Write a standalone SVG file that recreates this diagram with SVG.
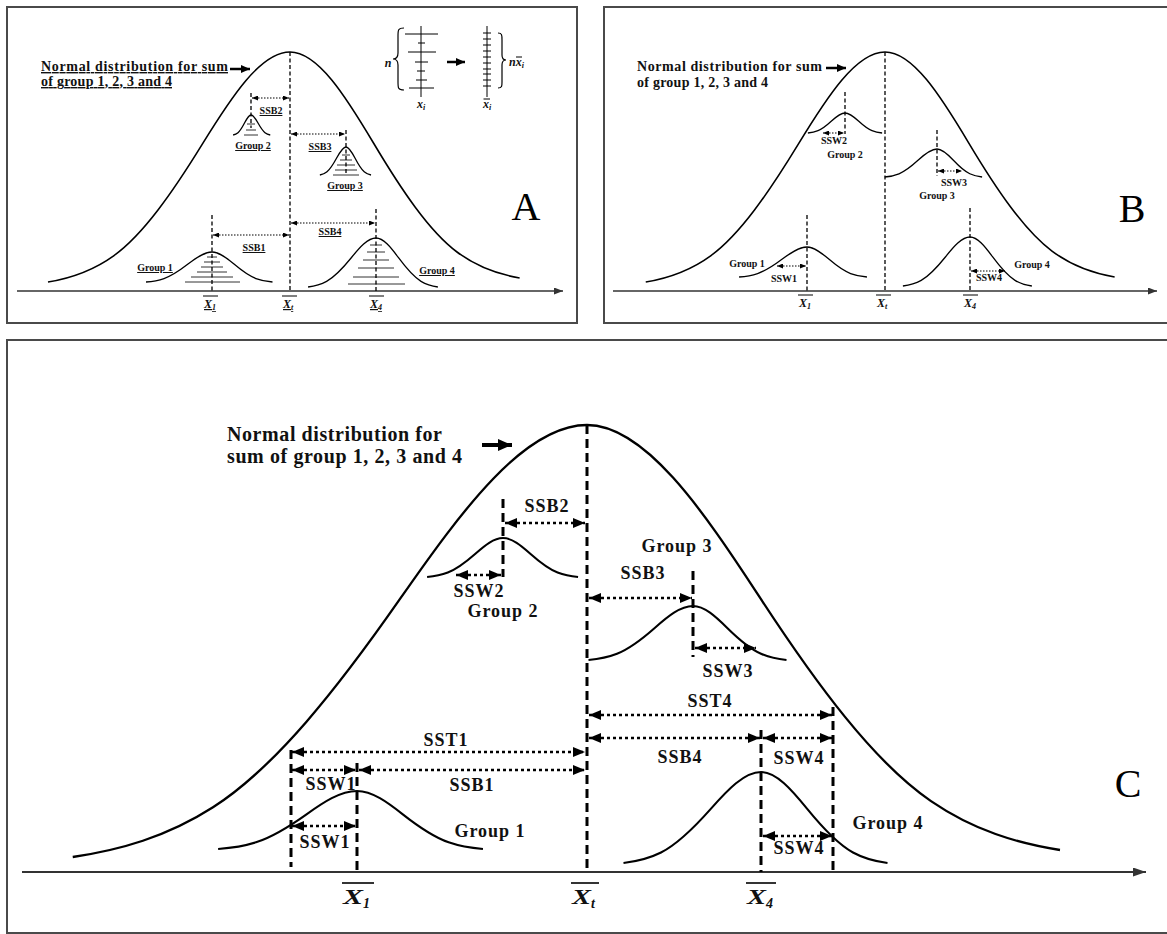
<svg xmlns="http://www.w3.org/2000/svg" xmlns:xlink="http://www.w3.org/1999/xlink" width="1167" height="934" viewBox="0 0 1167 934">
<style>
.frame{fill:none;stroke:#4a4a4a;stroke-width:2}
.axisS{stroke:#333;stroke-width:1.3;fill:none;marker-end:url(#ha)}
.axisL{stroke:#333;stroke-width:2;fill:none;marker-end:url(#haL)}
.bigS{fill:none;stroke:#000;stroke-width:1.6}
.grpS{fill:none;stroke:#000;stroke-width:1.3}
.bigL{fill:none;stroke:#000;stroke-width:2.3}
.grpL{fill:none;stroke:#000;stroke-width:2.1}
.dashS{stroke:#000;stroke-width:1.3;stroke-dasharray:4 2.5}
.dashL{stroke:#000;stroke-width:3;stroke-dasharray:9 5}
.dotS{stroke:#000;stroke-width:1.2;stroke-dasharray:1.5 1.5;marker-start:url(#hs);marker-end:url(#hs)}
.dotL{stroke:#000;stroke-width:2.5;stroke-dasharray:3 3;marker-start:url(#hl);marker-end:url(#hl)}
.tick{stroke:#333;stroke-width:1}
.ptr{stroke:#000;stroke-width:2.5;marker-end:url(#hp)}
.ptrL{stroke:#000;stroke-width:4;marker-end:url(#hpL)}
.bar{stroke:#000;stroke-width:1}
.barL{stroke:#000;stroke-width:1.6}
text{font-family:"Liberation Serif","Times New Roman",serif;font-weight:bold;fill:#111}
.lblA{font-size:10px;text-anchor:middle;text-decoration:underline}
.lblB{font-size:10px;text-anchor:middle}
.lblC{font-size:18px;text-anchor:middle;letter-spacing:1px}
.ttlS{font-size:14px}
.ttlL{font-size:20px}
.ul{text-decoration:underline}
.it{font-style:italic}
.big{font-weight:normal;font-size:40px;text-anchor:middle;fill:#000}
</style>
<defs>
<path id="bl" vector-effect="non-scaling-stroke" d="M -2.75 0 C -2.5 -0.0161 -2.25 -0.0458 -2 -0.1151 C -1.6667 -0.2074 -1.3333 -0.3904 -1 -0.5973 C -0.6667 -0.8042 -0.3333 -1 0 -1"/>
<path id="br" vector-effect="non-scaling-stroke" d="M 0 -1 C 0.3333 -1 0.6667 -0.8042 1 -0.5973 C 1.3333 -0.3904 1.6667 -0.2074 2 -0.1151 C 2.25 -0.0458 2.5 -0.0161 2.75 0"/>
<marker id="hs" markerUnits="userSpaceOnUse" markerWidth="6" markerHeight="5" viewBox="0 0 6 5" refX="6" refY="2.5" orient="auto-start-reverse"><path d="M0,0 L6,2.5 L0,5 z" fill="#000"/></marker>
<marker id="hl" markerUnits="userSpaceOnUse" markerWidth="12" markerHeight="10" viewBox="0 0 12 10" refX="12" refY="5" orient="auto-start-reverse"><path d="M0,0 L12,5 L0,10 z" fill="#000"/></marker>
<marker id="ha" markerUnits="userSpaceOnUse" markerWidth="9" markerHeight="7" viewBox="0 0 9 7" refX="9" refY="3.5" orient="auto"><path d="M0,0 L9,3.5 L0,7 z" fill="#333"/></marker>
<marker id="haL" markerUnits="userSpaceOnUse" markerWidth="13" markerHeight="9" viewBox="0 0 13 9" refX="13" refY="4.5" orient="auto"><path d="M0,0 L13,4.5 L0,9 z" fill="#333"/></marker>
<marker id="hp" markerUnits="userSpaceOnUse" markerWidth="9" markerHeight="8" viewBox="0 0 9 8" refX="9" refY="4" orient="auto"><path d="M0,0 L9,4 L0,8 z" fill="#000"/></marker>
<marker id="hpL" markerUnits="userSpaceOnUse" markerWidth="14" markerHeight="12" viewBox="0 0 14 12" refX="14" refY="6" orient="auto"><path d="M0,0 L14,6 L0,12 z" fill="#000"/></marker>
</defs>
<rect width="1167" height="934" fill="#fff"/>

<!-- ================= PANEL A ================= -->
<g id="panelA">
<rect class="frame" x="7" y="7" width="570" height="316"/>
<g id="A-total">
<use href="#bl" class="bigS" transform="translate(290,282) scale(88,230)"/>
<use href="#br" class="bigS" transform="translate(290,278) scale(83.5,226)"/>
</g>
<g id="A-group1">
<use href="#bl" class="grpS" transform="translate(212,282) scale(24,30)"/>
<use href="#br" class="grpS" transform="translate(212,282) scale(22,30)"/>
<line class="tick" x1="207" y1="257" x2="217" y2="257"/>
<line class="tick" x1="204" y1="262" x2="220" y2="262"/>
<line class="tick" x1="201" y1="267" x2="223" y2="267"/>
<line class="tick" x1="197" y1="272" x2="227" y2="272"/>
<line class="tick" x1="191" y1="277" x2="233" y2="277"/>
<line class="tick" x1="185" y1="282" x2="240" y2="282"/>
<text class="lblA" x="155" y="271">Group  1</text>
</g>
<g id="A-group2">
<use href="#bl" class="grpS" transform="translate(251,135) scale(6.5,20)"/>
<use href="#br" class="grpS" transform="translate(251,135) scale(7,20)"/>
<line class="tick" x1="247" y1="124" x2="255" y2="124"/>
<line class="tick" x1="246" y1="130" x2="256" y2="130"/>
<line class="tick" x1="244" y1="135" x2="258" y2="135"/>
<text class="lblA" x="253" y="149">Group  2</text>
</g>
<g id="A-group3">
<use href="#bl" class="grpS" transform="translate(346,175) scale(9.5,28)"/>
<use href="#br" class="grpS" transform="translate(346,175) scale(9.1,28)"/>
<line class="tick" x1="342" y1="155" x2="350" y2="155"/>
<line class="tick" x1="340" y1="160" x2="352" y2="160"/>
<line class="tick" x1="337" y1="165" x2="355" y2="165"/>
<line class="tick" x1="335" y1="170" x2="357" y2="170"/>
<line class="tick" x1="333" y1="175" x2="359" y2="175"/>
<text class="lblA" x="345" y="189">Group  3</text>
</g>
<g id="A-group4">
<use href="#bl" class="grpS" transform="translate(376,287) scale(24.7,49)"/>
<use href="#br" class="grpS" transform="translate(376,287) scale(22.5,49)"/>
<line class="tick" x1="370" y1="245" x2="382" y2="245"/>
<line class="tick" x1="367" y1="252" x2="385" y2="252"/>
<line class="tick" x1="363" y1="260" x2="389" y2="260"/>
<line class="tick" x1="358" y1="268" x2="394" y2="268"/>
<line class="tick" x1="353" y1="277" x2="399" y2="277"/>
<line class="tick" x1="348" y1="284" x2="405" y2="284"/>
<text class="lblA" x="437" y="274">Group  4</text>
</g>
<g id="A-title">
<text class="ttlS ul" x="41" y="71" textLength="187" lengthAdjust="spacing">Normal distribution for sum</text>
<text class="ttlS ul" x="41" y="86" textLength="131" lengthAdjust="spacing">of group 1, 2, 3 and 4</text>
</g>
<g id="A-inset">
<text class="it" x="388" y="67" font-size="12" text-anchor="middle">n</text>
<path d="M 404 28 C 398 28 398 30 398 36 L 398 53 C 398 57 397 59 393 59 C 397 59 398 61 398 65 L 398 82 C 398 88 398 90 404 90" fill="none" stroke="#000" stroke-width="1.2"/>
<line class="bar" x1="421" y1="26" x2="421" y2="97" stroke-width="1.4"/>
<line class="bar" x1="405" y1="34" x2="438" y2="34" stroke-width="1.4"/>
<line class="bar" x1="418" y1="43" x2="425" y2="43"/>
<line class="bar" x1="408" y1="52" x2="436" y2="52" stroke-width="1.4"/>
<line class="bar" x1="415" y1="62" x2="428" y2="62"/>
<line class="bar" x1="417" y1="71" x2="425" y2="71"/>
<line class="bar" x1="416" y1="80" x2="427" y2="80"/>
<line class="bar" x1="409" y1="88" x2="434" y2="88" stroke-width="1.4"/>
<line class="ptr" x1="447" y1="62" x2="465" y2="62"/>
<line class="bar" x1="487" y1="26" x2="487" y2="97" stroke-width="1.4"/>
<path d="M483 33 H491 M483 39 H491 M483 45 H491 M483 51 H491 M483 57 H491 M483 63 H491 M483 69 H491 M483 74 H491 M483 80 H491 M483 86 H491" stroke="#000" stroke-width="1"/>
<path d="M 498 33 C 502 33 502 35 502 40 L 502 55 C 502 58 503 60 506 60 C 503 60 502 62 502 65 L 502 82 C 502 86 502 88 498 88" fill="none" stroke="#000" stroke-width="1.2"/>
<text class="it" x="509" y="66" font-size="12">nx<tspan font-size="8" dy="2">i</tspan></text>
<line class="bar" x1="516" y1="57" x2="522" y2="57"/>
<text class="it" x="417" y="108" font-size="12">x<tspan font-size="8" dy="2">i</tspan></text>
<text class="it" x="483" y="108" font-size="12">x<tspan font-size="8" dy="2">i</tspan></text>
<line class="bar" x1="483.5" y1="99" x2="490" y2="99"/>
</g>
<g id="A-axis">
<line class="axisS" x1="17" y1="291" x2="563" y2="291"/>
<text class="it ul" x="204" y="308" font-size="12">X<tspan font-size="8" dy="2">1</tspan></text>
<line class="bar" x1="203" y1="296" x2="218" y2="296"/>
<text class="it ul" x="283" y="308" font-size="12">X<tspan font-size="8" dy="2">t</tspan></text>
<line class="bar" x1="282" y1="296" x2="297" y2="296"/>
<text class="it ul" x="370" y="308" font-size="12">X<tspan font-size="8" dy="2">4</tspan></text>
<line class="bar" x1="369" y1="296" x2="384" y2="296"/>
</g>
<text class="big" x="526" y="220">A</text>
<g id="A-connectors">
<line class="ptr" x1="230" y1="69" x2="250" y2="69"/>
<line class="dashS" x1="290" y1="52" x2="290" y2="291"/>
<line class="dashS" x1="251" y1="93" x2="251" y2="128"/>
<line class="dashS" x1="346" y1="130" x2="346" y2="175"/>
<line class="dashS" x1="212" y1="215" x2="212" y2="291"/>
<line class="dashS" x1="376" y1="209" x2="376" y2="291"/>
<line class="dotS" x1="252" y1="98" x2="289" y2="98"/>
<line class="dotS" x1="291" y1="134" x2="345" y2="134"/>
<line class="dotS" x1="213" y1="235" x2="289" y2="235"/>
<line class="dotS" x1="291" y1="223" x2="375" y2="223"/>
<text class="lblA" x="271" y="114">SSB2</text>
<text class="lblA" x="320" y="150">SSB3</text>
<text class="lblA" x="254" y="251">SSB1</text>
<text class="lblA" x="330" y="235">SSB4</text>
</g>
</g>

<!-- ================= PANEL B ================= -->
<g id="panelB">
<path class="frame" d="M1170 7 H604 V323 H1170"/>
<g id="B-total">
<use href="#bl" class="bigS" transform="translate(885,282) scale(87,230)"/>
<use href="#br" class="bigS" transform="translate(885,277) scale(83.5,225)"/>
</g>
<g id="B-group1">
<use href="#bl" class="grpS" transform="translate(807,277) scale(24.7,30)"/>
<use href="#br" class="grpS" transform="translate(807,277) scale(21.8,30)"/>
<text class="lblB" x="747" y="267">Group  1</text>
</g>
<g id="B-group2">
<use href="#bl" class="grpS" transform="translate(845,133) scale(13.5,20)"/>
<use href="#br" class="grpS" transform="translate(845,133) scale(13.5,20)"/>
<text class="lblB" x="845" y="158">Group  2</text>
</g>
<g id="B-group3">
<use href="#bl" class="grpS" transform="translate(937,177) scale(19,28)"/>
<use href="#br" class="grpS" transform="translate(937,177) scale(16.4,28)"/>
<text class="lblB" x="937" y="199">Group  3</text>
</g>
<g id="B-group4">
<use href="#bl" class="grpS" transform="translate(970,286) scale(24.4,49)"/>
<use href="#br" class="grpS" transform="translate(970,286) scale(22.5,49)"/>
<text class="lblB" x="1032" y="268">Group  4</text>
</g>
<g id="B-title">
<text class="ttlS" x="637" y="71" textLength="185" lengthAdjust="spacing">Normal distribution for sum</text>
<text class="ttlS" x="637" y="87" textLength="131" lengthAdjust="spacing">of group 1, 2, 3 and 4</text>
</g>
<g id="B-axis">
<line class="axisS" x1="613" y1="291" x2="1157" y2="291"/>
<text class="it" x="799" y="307" font-size="12">X<tspan font-size="8" dy="2">1</tspan></text>
<line class="bar" x1="798" y1="295" x2="813" y2="295"/>
<text class="it" x="877" y="307" font-size="12">X<tspan font-size="8" dy="2">t</tspan></text>
<line class="bar" x1="876" y1="295" x2="891" y2="295"/>
<text class="it" x="964" y="307" font-size="12">X<tspan font-size="8" dy="2">4</tspan></text>
<line class="bar" x1="963" y1="295" x2="978" y2="295"/>
</g>
<text class="big" x="1132" y="222">B</text>
<g id="B-connectors">
<line class="ptr" x1="826" y1="68" x2="846" y2="68"/>
<line class="dashS" x1="885" y1="52" x2="885" y2="291"/>
<line class="dashS" x1="845" y1="92" x2="845" y2="134"/>
<line class="dashS" x1="937" y1="130" x2="937" y2="176"/>
<line class="dashS" x1="807" y1="215" x2="807" y2="291"/>
<line class="dashS" x1="970" y1="208" x2="970" y2="291"/>
<line class="dotS" x1="823" y1="133" x2="844" y2="133"/>
<line class="dotS" x1="777" y1="266" x2="806" y2="266"/>
<line class="dotS" x1="938" y1="171" x2="962" y2="171"/>
<line class="dotS" x1="971" y1="271" x2="1005" y2="271"/>
<text class="lblB" x="834" y="144">SSW2</text>
<text class="lblB" x="784" y="282">SSW1</text>
<text class="lblB" x="954" y="186">SSW3</text>
<text class="lblB" x="989" y="281">SSW4</text>
</g>
</g>

<!-- ================= PANEL C ================= -->
<g id="panelC">
<path class="frame" d="M1170 340 H7 V933 H1170"/>
<g id="C-total">
<use href="#bl" class="bigL" transform="translate(587,857) scale(187,432)"/>
<use href="#br" class="bigL" transform="translate(587,850) scale(172,425)"/>
</g>
<g id="C-group1">
<use href="#bl" class="grpL" transform="translate(357,849) scale(50.5,58)"/>
<use href="#br" class="grpL" transform="translate(357,849) scale(45.8,58)"/>
<text class="lblC" x="490" y="837">Group  1</text>
</g>
<g id="C-group2">
<use href="#bl" class="grpL" transform="translate(503,577) scale(27.6,39)"/>
<use href="#br" class="grpL" transform="translate(503,577) scale(27.3,39)"/>
<text class="lblC" x="503" y="617">Group  2</text>
</g>
<g id="C-group3">
<use href="#bl" class="grpL" transform="translate(693,660) scale(38,54)"/>
<use href="#br" class="grpL" transform="translate(693,660) scale(34,54)"/>
<text class="lblC" x="677" y="552">Group  3</text>
</g>
<g id="C-group4">
<use href="#bl" class="grpL" transform="translate(761,863) scale(50,91)"/>
<use href="#br" class="grpL" transform="translate(761,863) scale(46,91)"/>
<text class="lblC" x="888" y="829">Group  4</text>
</g>
<g id="C-title">
<text class="ttlL" x="227" y="441" textLength="215" lengthAdjust="spacing">Normal distribution for</text>
<text class="ttlL" x="227" y="463" textLength="235" lengthAdjust="spacing">sum of group 1, 2, 3 and 4</text>
</g>
<g id="C-axis">
<line class="axisL" x1="22" y1="872" x2="1146" y2="872"/>
<text class="it" x="343" y="904" font-size="20" textLength="20" lengthAdjust="spacingAndGlyphs">X</text>
<text class="it" x="363" y="908" font-size="14">1</text>
<line class="barL" x1="342" y1="883" x2="374" y2="883"/>
<text class="it" x="572" y="904" font-size="20" textLength="19" lengthAdjust="spacingAndGlyphs">X</text>
<text class="it" x="591" y="908" font-size="14">t</text>
<line class="barL" x1="571" y1="883" x2="599" y2="883"/>
<text class="it" x="747" y="904" font-size="20" textLength="19" lengthAdjust="spacingAndGlyphs">X</text>
<text class="it" x="766" y="908" font-size="14">4</text>
<line class="barL" x1="746" y1="883" x2="776" y2="883"/>
</g>
<text class="big" x="1128" y="797" font-size="36">C</text>
<g id="C-connectors">
<line class="ptrL" x1="482" y1="445" x2="512" y2="445"/>
<line class="dashL" x1="587" y1="425" x2="587" y2="872"/>
<line class="dashL" x1="503" y1="499" x2="503" y2="577"/>
<line class="dashL" x1="693" y1="571" x2="693" y2="657"/>
<line class="dashL" x1="761" y1="730" x2="761" y2="872"/>
<line class="dashL" x1="833" y1="707" x2="833" y2="875"/>
<line class="dashL" x1="357" y1="763" x2="357" y2="872"/>
<line class="dashL" x1="291" y1="750" x2="291" y2="867"/>
<line class="dotL" x1="505" y1="523" x2="585" y2="523"/>
<line class="dotL" x1="456" y1="575" x2="501" y2="575"/>
<line class="dotL" x1="589" y1="598" x2="692" y2="598"/>
<line class="dotL" x1="695" y1="648" x2="756" y2="648"/>
<line class="dotL" x1="589" y1="715" x2="832" y2="715"/>
<line class="dotL" x1="589" y1="738" x2="760" y2="738"/>
<line class="dotL" x1="763" y1="738" x2="832" y2="738"/>
<line class="dotL" x1="763" y1="836" x2="832" y2="836"/>
<line class="dotL" x1="292" y1="752" x2="585" y2="752"/>
<line class="dotL" x1="292" y1="770" x2="356" y2="770"/>
<line class="dotL" x1="359" y1="770" x2="585" y2="770"/>
<line class="dotL" x1="292" y1="826" x2="356" y2="826"/>
<text class="lblC" x="547" y="512">SSB2</text>
<text class="lblC" x="479" y="597">SSW2</text>
<text class="lblC" x="643" y="579">SSB3</text>
<text class="lblC" x="728" y="677">SSW3</text>
<text class="lblC" x="710" y="707">SST4</text>
<text class="lblC" x="680" y="763">SSB4</text>
<text class="lblC" x="799" y="764">SSW4</text>
<text class="lblC" x="799" y="854">SSW4</text>
<text class="lblC" x="446" y="746">SST1</text>
<text class="lblC" x="331" y="790">SSW1</text>
<text class="lblC" x="472" y="791">SSB1</text>
<text class="lblC" x="325" y="848">SSW1</text>
</g>
</g>
</svg>
